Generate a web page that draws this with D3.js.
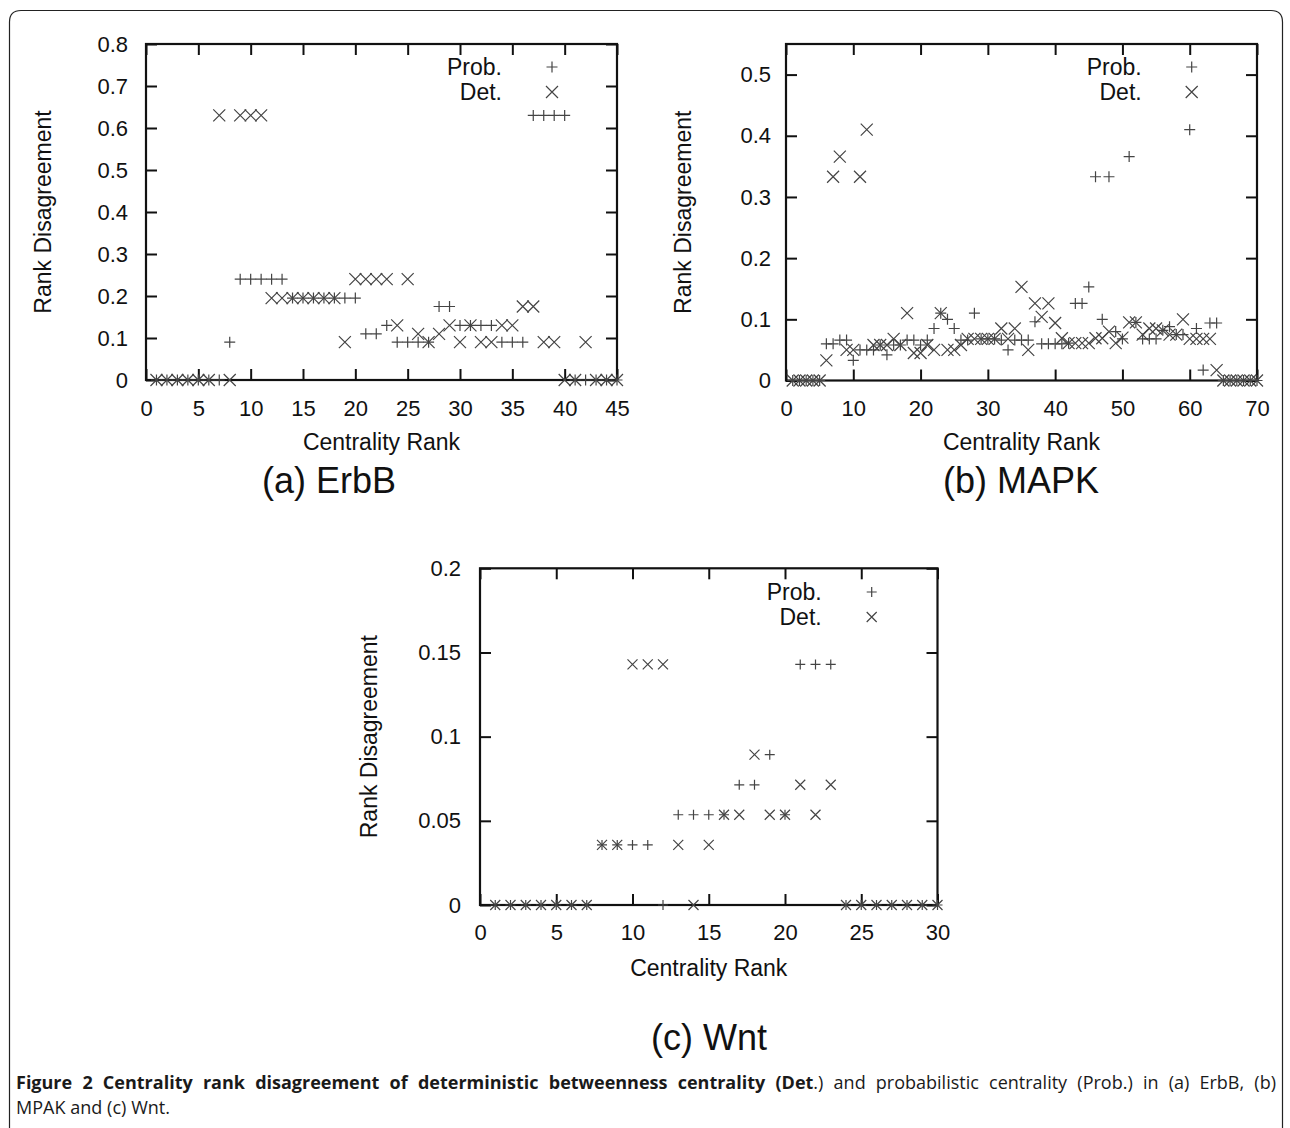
<!DOCTYPE html>
<html>
<head>
<meta charset="utf-8">
<script src="https://cdn.jsdelivr.net/npm/d3@7"></script>
<style>
  body { margin: 0; background: #fff; }
  svg { display: block; }
  .plot text { font-family: "Liberation Sans", Arial, Helvetica, sans-serif; fill: #111; }
</style>
</head>
<body>
<div id="fig"></div>
<script>
// ---- data (rank = position in the array + 1) ----
var erbbProb = [0,0,0,0,0,0,0,0.09,0.24,0.24,0.24,0.24,0.24,0.195,0.195,0.195,0.195,0.195,0.195,0.195,
  0.11,0.11,0.13,0.09,0.09,0.09,0.09,0.175,0.175,0.13,0.13,0.13,0.13,0.09,0.09,0.09,0.63,0.63,0.63,0.63,
  0,0,0,0,0];
var erbbDet = [0,0,0,0,0,0,0.63,0,0.63,0.63,0.63,0.195,0.195,0.195,0.195,0.195,0.195,0.195,0.09,0.24,
  0.24,0.24,0.24,0.13,0.24,0.11,0.09,0.11,0.13,0.09,0.13,0.09,0.09,0.13,0.13,0.175,0.175,0.09,0.09,0,
  0,0.09,0,0,0];

var mapkProb = [0,0,0,0,0,0.06,0.06,0.066,0.066,0.033,0.05,0.05,0.05,0.058,0.042,0.058,0.058,0.066,0.066,0.058,
  0.066,0.085,0.11,0.1,0.085,0.066,0.066,0.11,0.068,0.068,0.068,0.066,0.05,0.066,0.066,0.066,0.096,0.06,0.06,0.06,
  0.06,0.061,0.126,0.126,0.153,0.333,0.1,0.333,0.08,0.068,0.366,0.095,0.068,0.068,0.068,0.082,0.088,0.075,0.075,0.41,
  0.085,0.017,0.094,0.094,0,0,0,0,0,0];
var mapkDet = [0,0,0,0,0,0.033,0.333,0.366,0.05,0.05,0.333,0.41,0.058,0.058,0.058,0.068,0.058,0.11,0.045,0.045,
  0.058,0.05,0.11,0.05,0.05,0.058,0.068,0.068,0.068,0.068,0.068,0.085,0.068,0.085,0.153,0.05,0.126,0.104,0.126,0.094,
  0.069,0.061,0.061,0.061,0.061,0.069,0.069,0.08,0.061,0.07,0.095,0.095,0.075,0.085,0.085,0.082,0.075,0.075,0.1,0.068,
  0.068,0.068,0.068,0.017,0,0,0,0,0,0];

var wntProb = [0,0,0,0,0,0,0,0.0357,0.0357,0.0357,0.0357,0,0.0536,0.0536,0.0536,0.0536,0.0714,0.0714,0.0893,0.0536,
  0.1429,0.1429,0.1429,0,0,0,0,0,0,0];
var wntDet = [0,0,0,0,0,0,0,0.0357,0.0357,0.1429,0.1429,0.1429,0.0357,0,0.0357,0.0536,0.0536,0.0893,0.0536,0.0536,
  0.0714,0.0536,0.0714,0,0,0,0,0,0,0];

var erbbXTicks = [0,5,10,15,20,25,30,35,40,45];
var erbbYTicks = [0,0.1,0.2,0.3,0.4,0.5,0.6,0.7,0.8];
var mapkXTicks = [0,10,20,30,40,50,60,70];
var mapkYTicks = [0,0.1,0.2,0.3,0.4,0.5];
var wntXTicks = [0,5,10,15,20,25,30];
var wntYTicks = [0,0.05,0.1,0.15,0.2];

var seriesNames = ["Prob.", "Det."];

var svg = d3.select("#fig").append("svg").attr("width", 1290).attr("height", 1128);

// outer box with rounded top corners
svg.append("path")
  .attr("d", "M9.5,1128 V22 Q9.5,10.5 21,10.5 H1271 Q1282.5,10.5 1282.5,22 V1128")
  .attr("fill", "none").attr("stroke", "#222").attr("stroke-width", 1.2);

var markColor = "#444";

function plusPath(cx, cy, s) {
  return "M" + (cx - s) + "," + cy + "H" + (cx + s) + "M" + cx + "," + (cy - s) + "V" + (cy + s);
}
function crossPath(cx, cy, s) {
  return "M" + (cx - s) + "," + (cy - s) + "L" + (cx + s) + "," + (cy + s) +
         "M" + (cx - s) + "," + (cy + s) + "L" + (cx + s) + "," + (cy - s);
}

function drawPanel(p) {
  var g = svg.append("g").attr("class", "plot");
  var x = d3.scaleLinear().domain(p.xDomain).range([p.left, p.right]);
  var y = d3.scaleLinear().domain(p.yDomain).range([p.bottom, p.top]);
  var fmt = d3.format("~g");

  // axes, ticks inward and mirrored
  var axes = [
    { a: d3.axisBottom(x).tickValues(p.xTicks).tickPadding(p.xPad).tickFormat(fmt), t: "translate(0," + p.bottom + ")" },
    { a: d3.axisTop(x).tickValues(p.xTicks).tickFormat(""), t: "translate(0," + p.top + ")" },
    { a: d3.axisLeft(y).tickValues(p.yTicks).tickPadding(p.yPad).tickFormat(fmt), t: "translate(" + p.left + ",0)" },
    { a: d3.axisRight(y).tickValues(p.yTicks).tickFormat(""), t: "translate(" + p.right + ",0)" }
  ];
  axes.forEach(function (ax) {
    var ag = g.append("g").attr("transform", ax.t).call(ax.a.tickSize(-11));
    ag.select(".domain").remove();
    ag.selectAll(".tick line").attr("stroke", "#111").attr("stroke-width", 2);
    ag.selectAll(".tick text").attr("font-size", 22).attr("fill", "#111")
      .attr("font-family", '"Liberation Sans", Arial, sans-serif');
  });

  // frame
  g.append("rect").attr("x", p.left).attr("y", p.top)
    .attr("width", p.right - p.left).attr("height", p.bottom - p.top)
    .attr("fill", "none").attr("stroke", "#111").attr("stroke-width", 2.2);

  // points
  g.append("g").selectAll("path").data(p.prob).enter().append("path")
    .attr("d", function (d, i) { return plusPath(x(i + 1), y(d), p.ps); })
    .attr("stroke", markColor).attr("stroke-width", 1.2).attr("fill", "none");
  g.append("g").selectAll("path").data(p.det).enter().append("path")
    .attr("d", function (d, i) { return crossPath(x(i + 1), y(d), p.xs); })
    .attr("stroke", markColor).attr("stroke-width", 1.2).attr("fill", "none");

  // legend
  g.selectAll(".leg").data(seriesNames).enter().append("text")
    .text(function (d) { return d; })
    .attr("x", p.legX).attr("y", function (d, i) { return p.legY + i * 25; })
    .attr("text-anchor", "end").attr("font-size", 23);
  g.append("path").attr("d", plusPath(p.legMX, p.legY - 8, p.ps))
    .attr("stroke", markColor).attr("stroke-width", 1.2);
  g.append("path").attr("d", crossPath(p.legMX, p.legY + 17, p.xs))
    .attr("stroke", markColor).attr("stroke-width", 1.2);

  // axis titles
  g.append("text").text("Centrality Rank")
    .attr("x", (p.left + p.right) / 2).attr("y", p.xTitleY)
    .attr("text-anchor", "middle").attr("font-size", 23);
  g.append("text").text("Rank Disagreement")
    .attr("transform", "translate(" + p.yTitleX + "," + (p.top + p.bottom) / 2 + ") rotate(-90)")
    .attr("text-anchor", "middle").attr("font-size", 23);

  // sub caption
  g.append("text").text(p.title)
    .attr("x", p.titleX).attr("y", p.titleY)
    .attr("text-anchor", "middle").attr("font-size", 36);
}

drawPanel({ left: 146, right: 617, top: 44, bottom: 380, xDomain: [0, 45], yDomain: [0, 0.8],
  xTicks: erbbXTicks, yTicks: erbbYTicks, xPad: 20, yPad: 18, prob: erbbProb, det: erbbDet,
  ps: 5.5, xs: 6, legX: 502, legY: 75, legMX: 552, xTitleY: 450, yTitleX: 51,
  title: "(a) ErbB", titleX: 329, titleY: 493 });

drawPanel({ left: 786, right: 1257, top: 44, bottom: 380.5, xDomain: [0, 70], yDomain: [0, 0.55],
  xTicks: mapkXTicks, yTicks: mapkYTicks, xPad: 20, yPad: 15, prob: mapkProb, det: mapkDet,
  ps: 5.5, xs: 6, legX: 1141.7, legY: 75, legMX: 1191.7, xTitleY: 450, yTitleX: 691,
  title: "(b) MAPK", titleX: 1021, titleY: 493 });

drawPanel({ left: 480, right: 937.5, top: 568.3, bottom: 905, xDomain: [0, 30], yDomain: [0, 0.2],
  xTicks: wntXTicks, yTicks: wntYTicks, xPad: 19, yPad: 19, prob: wntProb, det: wntDet,
  ps: 5, xs: 5, legX: 821.7, legY: 600, legMX: 871.7, xTitleY: 976, yTitleX: 377,
  title: "(c) Wnt", titleX: 709, titleY: 1050 });

// ---- figure caption, first line justified ----
var capLines = [
  [["Figure 2 Centrality rank disagreement of deterministic betweenness centrality (Det", true],
   [".) and probabilistic centrality (Prob.) in (a) ErbB, (b)", false]],
  [["MPAK and (c) Wnt.", false]]
];
var capLeft = 16, capRight = 1276, capY = [1089, 1114];
var capFont = '"Open Sans", "Noto Sans", sans-serif';

capLines.forEach(function (line, li) {
  // split into words, glue punctuation that follows a bold word without a space
  var words = [];
  line.forEach(function (seg) {
    var parts = seg[0].split(" ");
    parts.forEach(function (w, wi) {
      if (w === "") return;
      if (wi === 0 && words.length && seg[0][0] !== " ") {
        words[words.length - 1].pieces.push([w, seg[1]]);
      } else {
        words.push({ pieces: [[w, seg[1]]] });
      }
    });
  });
  var nodes = words.map(function (w) {
    var t = svg.append("text").attr("y", capY[li]).attr("font-size", 18)
      .attr("font-family", capFont).attr("fill", "#1a1a1a");
    w.pieces.forEach(function (pc) {
      t.append("tspan").text(pc[0]).attr("font-weight", pc[1] ? "bold" : "normal");
    });
    return t;
  });
  var widths = nodes.map(function (t) { return t.node().getComputedTextLength(); });
  var total = d3.sum(widths);
  var gap = li === 0 ? (capRight - capLeft - total) / (nodes.length - 1) : 4.8;
  var cx = capLeft;
  nodes.forEach(function (t, i) {
    t.attr("x", cx);
    cx += widths[i] + gap;
  });
});
</script>
</body>
</html>
